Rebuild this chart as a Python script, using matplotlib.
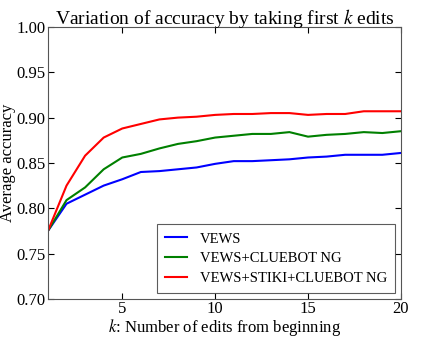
import matplotlib
matplotlib.use("Agg")
import matplotlib.pyplot as plt

k = list(range(1, 21))

vews = [0.775, 0.805, 0.815, 0.825, 0.832, 0.840, 0.841, 0.843, 0.845, 0.849,
        0.852, 0.852, 0.853, 0.854, 0.856, 0.857, 0.859, 0.859, 0.859, 0.861]
vews_cluebot = [0.775, 0.809, 0.823, 0.843, 0.856, 0.860, 0.866, 0.871, 0.874, 0.878,
                0.880, 0.882, 0.882, 0.884, 0.879, 0.881, 0.882, 0.884, 0.883, 0.885]
vews_stiki_cluebot = [0.775, 0.825, 0.858, 0.878, 0.888, 0.893, 0.898, 0.900, 0.901, 0.903,
                      0.904, 0.904, 0.905, 0.905, 0.903, 0.904, 0.904, 0.907, 0.907, 0.907]

labels = ["VEWS", "VEWS+CLUEBOT NG", "VEWS+STIKI+CLUEBOT NG"]

plt.rcParams["font.family"] = "Liberation Serif"
plt.rcParams["mathtext.fontset"] = "stix"

fig = plt.figure(figsize=(4.32, 3.37), dpi=100)
ax = fig.add_axes([0.111, 0.113, 0.817, 0.807])

ax.plot(k, vews, color="b", lw=1.5, label=labels[0])
ax.plot(k, vews_cluebot, color="g", lw=1.5, label=labels[1])
ax.plot(k, vews_stiki_cluebot, color="r", lw=1.5, label=labels[2])

ax.set_xlim(1, 20)
ax.set_ylim(0.70, 1.00)
ax.set_xticks([5, 10, 15, 20])
ax.set_yticks([0.70, 0.75, 0.80, 0.85, 0.90, 0.95, 1.00])
ax.tick_params(direction="in", top=True, right=True, labelsize=12, length=4, pad=2)
ax.tick_params(axis="x", pad=1.5)
for s in ax.spines.values():
    s.set_color("#555555")

ax.set_title("Variation of accuracy by taking first $k$ edits", fontsize=14, pad=2)
ax.set_xlabel("$k$: Number of edits from beginning", fontsize=12, labelpad=0)
ax.set_ylabel("Average accuracy", fontsize=12, labelpad=0)

leg = ax.legend(loc="lower right", fontsize=10.5, fancybox=False, handlelength=1.5,
                handletextpad=0.9, borderpad=0.55, labelspacing=0.45,
                borderaxespad=0.4)
leg.get_frame().set_edgecolor("#333333")
leg.get_frame().set_linewidth(0.8)

fig.savefig("out.png", dpi=100)
